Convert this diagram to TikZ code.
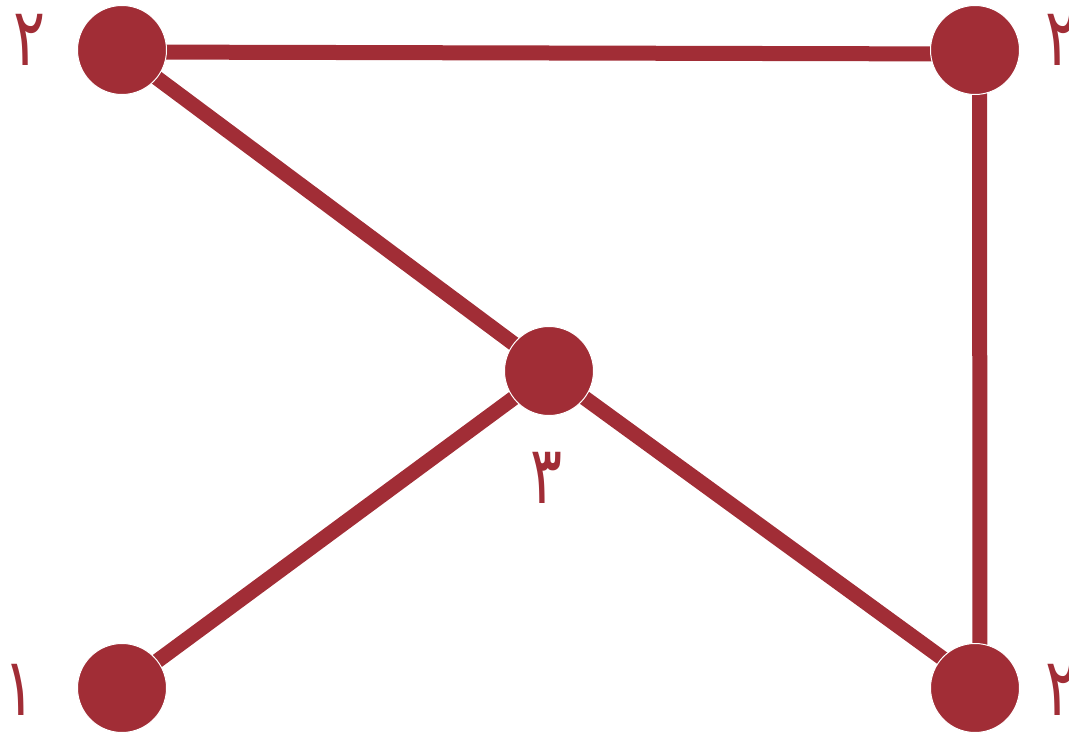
\documentclass[tikz,border=0pt]{standalone}
\usepackage{fontspec}
\newfontfamily\arabicfont[Script=Arabic]{DejaVu Sans}
\TeXXeTstate=1
\usetikzlibrary{calc,backgrounds}
\definecolor{gred}{RGB}{161,45,54}
\tikzset{
  vert/.style={circle,fill=gred,draw=white,line width=1bp,minimum size=89bp,inner sep=0pt},
  edge/.style={draw=gred,line width=15bp},
  lbl/.style={text=gred,inner sep=0pt,yscale=1.35,font=\arabicfont\fontsize{60}{60}\selectfont}
}
\begin{document}
\begin{tikzpicture}[x=1bp,y=-1bp]
\useasboundingbox (0,0) rectangle (1069,734);
\node[vert] (tl) at (122,50) {};
\node[vert] (tr) at (975,50) {};
\node[vert] (br) at (975,688) {};
\node[vert] (bl) at (122,688) {};
\node[vert] (c) at (549,371) {};
\begin{pgfonlayer}{background}
\draw[edge] ($(tl.center)+(0,2)$) -- ($(tr.center)+(0,4)$);
\draw[edge] ($(tr.center)+(4.5,0)$) -- ($(br.center)+(5,0)$);
\draw[edge] ($(tl.center)+(0,2)$) -- ($(c.center)+(0,-1)$);
\draw[edge] ($(c.center)+(0,1)$) -- ($(bl.center)+(0,-1)$);
\draw[edge] ($(c.center)+(0,1)$) -- ($(br.center)+(0,-6)$);
\end{pgfonlayer}
\node[lbl] (ltl) at (30,40) {\beginR ۲\endR};
\node[lbl] (ltr) at (1062,40) {\beginR ۲\endR};
\node[lbl] (lbr) at (1062,690) {\beginR ۲\endR};
\node[lbl] (lbl) at (20,690) {\beginR ۱\endR};
\node[lbl] (lc) at (547,478) {\beginR ۳\endR};
\end{tikzpicture}
\end{document}
